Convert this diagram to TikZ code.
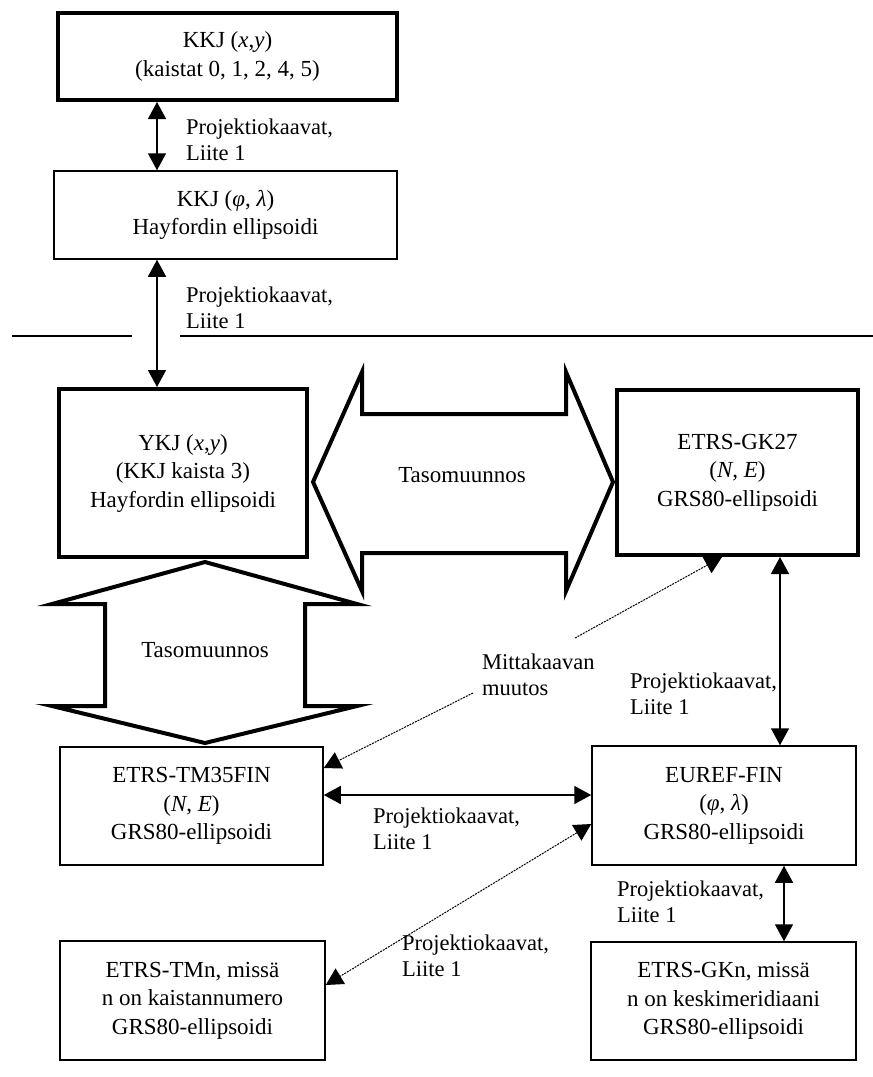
\documentclass[tikz,border=0pt]{standalone}
\usepackage{fontspec}
\setmainfont{Liberation Serif}
\usetikzlibrary{arrows.meta}
\begin{document}
\begin{tikzpicture}[x=1pt,y=-1pt,
  >={Triangle[length=17pt,width=18pt]},
  box/.style={draw, line width=1.5pt, inner sep=0pt, align=center,
    font=\fontsize{23}{28.5}\selectfont},
  thickbox/.style={box, line width=4pt},
  lbl/.style={anchor=west, inner sep=0pt, align=left,
    font=\fontsize{22.5}{26}\selectfont},
  bigtext/.style={inner sep=0pt, font=\fontsize{23}{26}\selectfont},
  dbl/.style={<->, line width=1.5pt},
  dotarrow/.style={line width=1pt, dash pattern=on 2pt off 1pt},
  bigarrow/.style={draw, fill=white, line width=4pt, line join=miter, miter limit=20},
  sep/.style={line width=1.3pt}]
\useasboundingbox (0,0) rectangle (873,1077);

% boxes
\node[thickbox, minimum width=339pt, minimum height=87pt] (k1) at (227.5,56.5)
  {KKJ (\textit{x},\textit{y})\\(kaistat 0, 1, 2, 4, 5)};
\node[box, minimum width=343pt, minimum height=88pt] (k2) at (225.5,215)
  {KKJ (\textit{φ}, \textit{λ})\\Hayfordin ellipsoidi};
\node[thickbox, minimum width=248pt, minimum height=168pt] (ykj) at (183,473)
  {YKJ (\textit{x},\textit{y})\\(KKJ kaista 3)\\Hayfordin ellipsoidi};
\node[thickbox, minimum width=241pt, minimum height=165pt] (gk27) at (737.5,472.5)
  {ETRS-GK27\\(\textit{N}, \textit{E})\\GRS80-ellipsoidi};
\node[box, minimum width=263pt, minimum height=118pt] (tm35) at (191.5,806)
  {ETRS-TM35FIN\\(\textit{N}, \textit{E})\\GRS80-ellipsoidi};
\node[box, minimum width=264pt, minimum height=119pt] (euref) at (724,805.5)
  {EUREF-FIN\\(\textit{φ}, \textit{λ})\\GRS80-ellipsoidi};
\node[box, minimum width=265pt, minimum height=119pt] (tmn) at (192.5,1000.5)
  {ETRS-TMn, missä\\n on kaistannumero\\GRS80-ellipsoidi};
\node[box, minimum width=265pt, minimum height=118pt] (gkn) at (723.5,1001)
  {ETRS-GKn, missä\\n on keskimeridiaani\\GRS80-ellipsoidi};

% separator line
\coordinate (s1) at (12,336);
\coordinate (s2) at (132,336);
\coordinate (s3) at (180,336);
\coordinate (s4) at (873,336);
\draw[sep] (s1) -- (s2);
\draw[sep] (s3) -- (s4);

% big arrows
\draw[bigarrow] (313,482) -- (362,372) -- (362,414) -- (566,414) -- (566,372)
  -- (613,482) -- (566,591) -- (566,553) -- (362,553) -- (362,591) -- cycle;
\node[bigtext] (t1) at (462,475) {Tasomuunnos};
\draw[bigarrow] (205,562) -- (357,604) -- (305,604) -- (305,706) -- (357,706)
  -- (205,743) -- (52,706) -- (105,706) -- (105,604) -- (52,604) -- cycle;
\node[bigtext] (t2) at (205,650) {Tasomuunnos};

% solid double arrows
\draw[dbl] (157,0 |- k1.south) -- (157,0 |- k2.north);
\node[lbl] (l1) at (186,140) {Projektiokaavat,\\Liite 1};
\draw[dbl] (157,0 |- k2.south) -- (157,0 |- ykj.north);
\node[lbl] (l2) at (186,308) {Projektiokaavat,\\Liite 1};
\draw[dbl] (780,0 |- gk27.south) -- (780,0 |- euref.north);
\node[lbl] (l3) at (630,694) {Projektiokaavat,\\Liite 1};
\draw[dbl] (tm35.east |- 0,795) -- (euref.west |- 0,795);
\node[lbl] (l4) at (373,829) {Projektiokaavat,\\Liite 1};
\draw[dbl] (784,0 |- euref.south) -- (784,0 |- gkn.north);
\node[lbl] (l6) at (617,902) {Projektiokaavat,\\Liite 1};

% dotted arrows
\node[lbl] (mitta) at (482,675) {Mittakaavan\\muutos};
\coordinate (m1) at (575,638);
\coordinate (m2) at (473,693);
\draw[dotarrow, ->] (m1) -- (722,0 |- gk27.south);
\draw[dotarrow, ->] (m2) -- (tm35.east |- 0,768);
\draw[dotarrow, <->] (euref.west |- 0,824) -- (tmn.east |- 0,985);
\node[lbl] (l5) at (402,956) {Projektiokaavat,\\Liite 1};
\end{tikzpicture}
\end{document}
